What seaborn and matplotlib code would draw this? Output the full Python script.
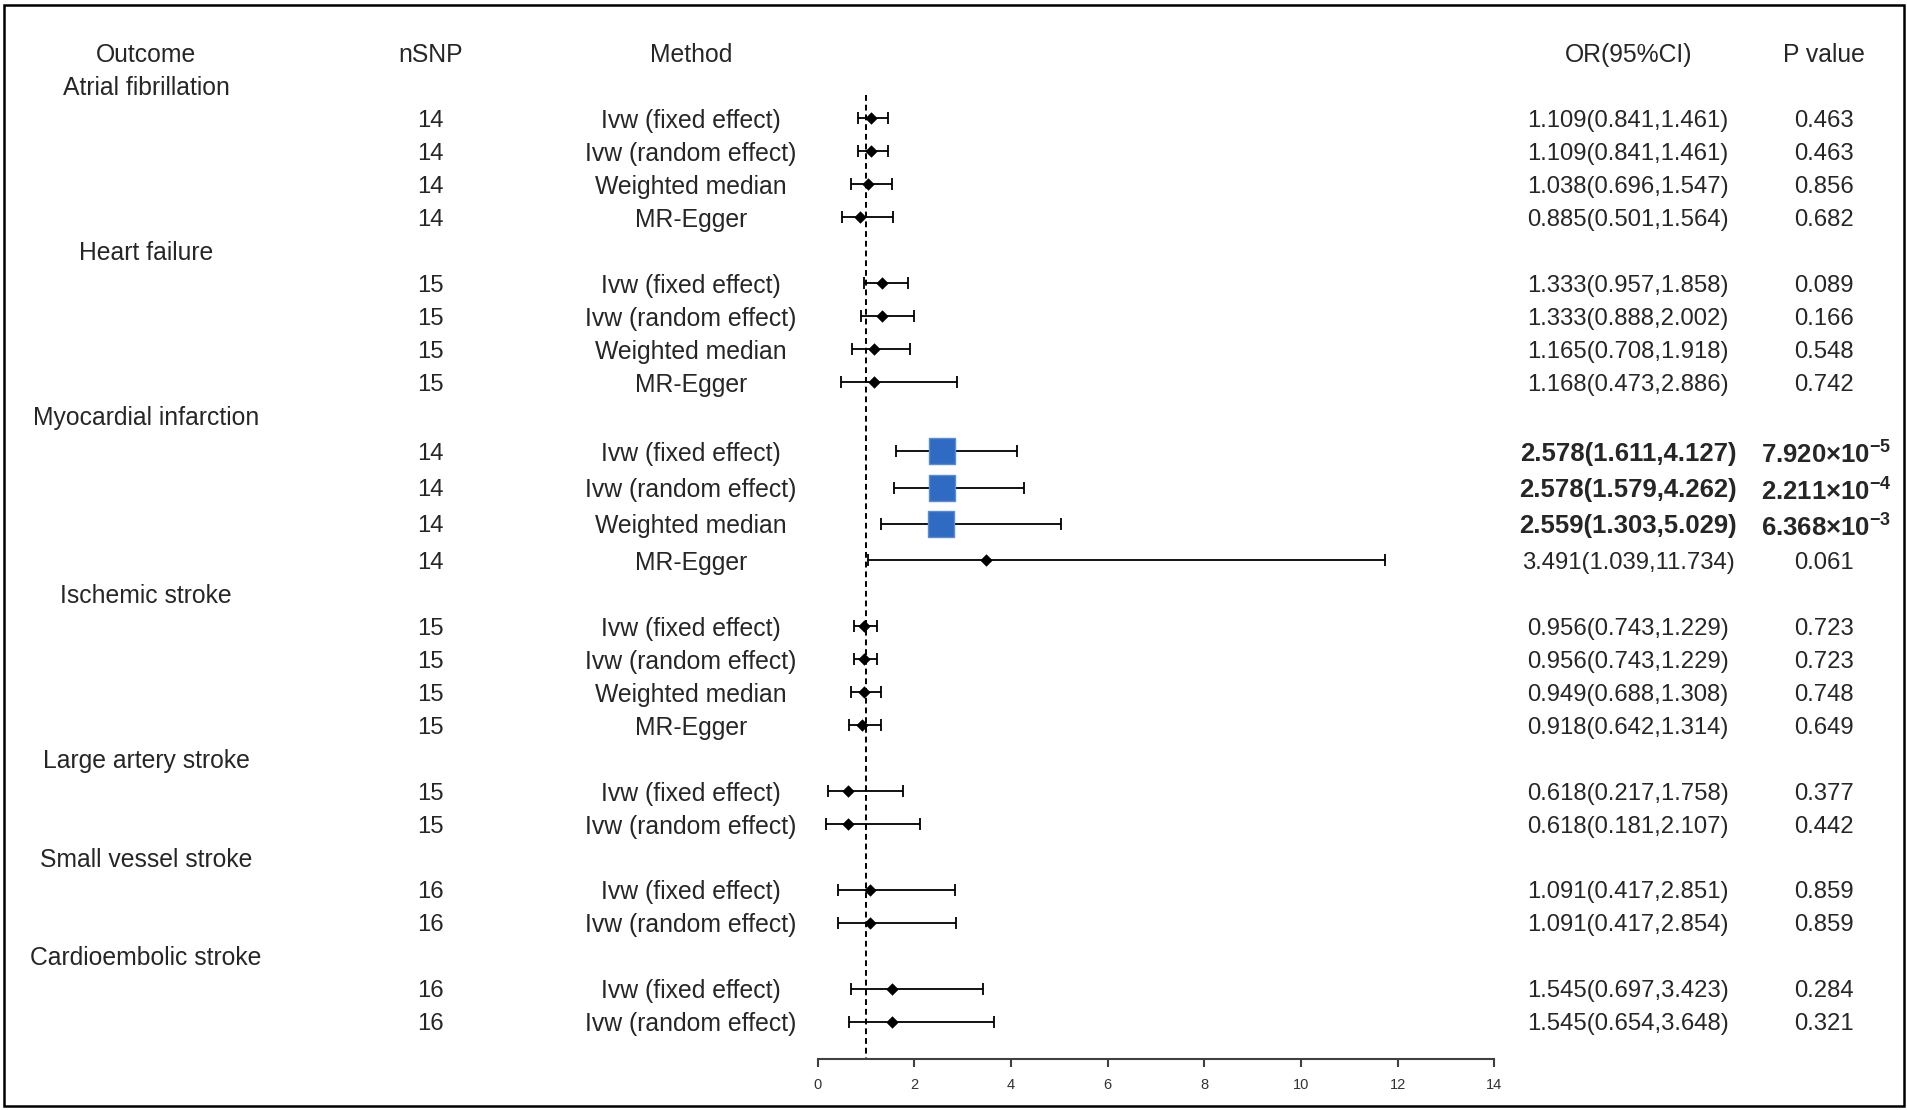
import numpy as np
import pandas as pd
import matplotlib
matplotlib.use("Agg")
import matplotlib.pyplot as plt
import matplotlib.transforms as mtransforms
from matplotlib.patches import Rectangle
import seaborn as sns

# data
outcomes = ["Atrial fibrillation", "Heart failure", "Myocardial infarction",
            "Ischemic stroke", "Large artery stroke", "Small vessel stroke",
            "Cardioembolic stroke"]
methods_per_outcome = [4, 4, 4, 4, 2, 2, 2]
method_names = ["Ivw (fixed effect)", "Ivw (random effect)", "Weighted median", "MR-Egger"]
nsnp = [14, 14, 14, 14, 15, 15, 15, 15, 14, 14, 14, 14,
        15, 15, 15, 15, 15, 15, 16, 16, 16, 16]
odds = [1.109, 1.109, 1.038, 0.885, 1.333, 1.333, 1.165, 1.168,
        2.578, 2.578, 2.559, 3.491, 0.956, 0.956, 0.949, 0.918,
        0.618, 0.618, 1.091, 1.091, 1.545, 1.545]
lower = [0.841, 0.841, 0.696, 0.501, 0.957, 0.888, 0.708, 0.473,
         1.611, 1.579, 1.303, 1.039, 0.743, 0.743, 0.688, 0.642,
         0.217, 0.181, 0.417, 0.417, 0.697, 0.654]
upper = [1.461, 1.461, 1.547, 1.564, 1.858, 2.002, 1.918, 2.886,
         4.127, 4.262, 5.029, 11.734, 1.229, 1.229, 1.308, 1.314,
         1.758, 2.107, 2.851, 2.854, 3.423, 3.648]
pvals = ["0.463", "0.463", "0.856", "0.682", "0.089", "0.166", "0.548", "0.742",
         r"7.920{\times}10^{-5}", r"2.211{\times}10^{-4}", r"6.368{\times}10^{-3}", "0.061",
         "0.723", "0.723", "0.748", "0.649", "0.377", "0.442", "0.859", "0.859",
         "0.284", "0.321"]
significant = [False] * 8 + [True, True, True, False] + [False] * 10

# build the row layout: outcome heading rows followed by method rows
rows = []
k = 0
for name, n in zip(outcomes, methods_per_outcome):
    rows.append(("head", name, None))
    for j in range(n):
        rows.append(("item", method_names[j], k))
        k += 1

ypos = []
y = 0.0
for i, r in enumerate(rows):
    if i > 0:
        big = r[0] == "item" and significant[r[2]]
        prev = rows[i - 1]
        prev_big = prev[0] == "item" and significant[prev[2]]
        y += 1.1 if (big or prev_big) else 1.0
    ypos.append(y)

df = pd.DataFrame({"nsnp": nsnp, "OR": odds, "lo": lower, "hi": upper,
                   "sig": significant})
df["y"] = [ypos[i] for i, r in enumerate(rows) if r[0] == "item"]
df["method"] = [r[1] for r in rows if r[0] == "item"]

sns.set_theme(style="white")
plt.rcParams["font.family"] = ["Liberation Sans", "DejaVu Sans"]
plt.rcParams["mathtext.fontset"] = "custom"
plt.rcParams["mathtext.rm"] = "Liberation Sans"
plt.rcParams["mathtext.bf"] = "Liberation Sans:bold"

fig = plt.figure(figsize=(19.08, 11.10), dpi=100)
ax = fig.add_axes([672 / 1568, 1 - 870 / 912, (1228 - 672) / 1568, 870 / 912])
ax.set_xlim(0, 14)
y_axis = (870 - 70) / 27.1
ax.set_ylim(y_axis, -70 / 27.1)

# reference line at OR = 1
ax.vlines(1, 0.3, y_axis, colors="black", linestyles=(0, (3, 2)), lw=1.4, zorder=1)

# confidence intervals
ax.errorbar(df["OR"], df["y"], xerr=[df["OR"] - df["lo"], df["hi"] - df["OR"]],
            fmt="none", ecolor="black", elinewidth=1.3, capsize=4.5, capthick=1.3,
            zorder=2)

# point estimates
sns.scatterplot(data=df[~df["sig"]], x="OR", y="y", marker="D", s=40,
                color="black", edgecolor="black", linewidth=0, ax=ax, zorder=3,
                legend=False)
sns.scatterplot(data=df[df["sig"]], x="OR", y="y", marker="s", s=330,
                color="#2F6BC2", edgecolor="#5A8CD6", linewidth=1.0, ax=ax,
                zorder=3, legend=False)

ax.set_xticks(range(0, 15, 2))
ax.set_yticks([])
ax.set_xlabel("")
ax.set_ylabel("")
for side in ["top", "left", "right"]:
    ax.spines[side].set_visible(False)
ax.spines["bottom"].set_color("#404040")
ax.spines["bottom"].set_linewidth(1.5)
ax.tick_params(axis="x", direction="out", length=6, width=1.5, color="#404040",
               labelsize=10.5, labelcolor="#333333", pad=8, bottom=True)
ax.patch.set_alpha(0)

# table text, x in figure fraction, y in row units
tr = mtransforms.blended_transform_factory(fig.transFigure, ax.transData)
fs = 17.8
fs_num = 17.2
va = "center_baseline"
col_out, col_n, col_m, col_or, col_p = 120 / 1568, 354 / 1568, 568 / 1568, 1338 / 1568, 1499 / 1568

ax.text(col_out, -1, "Outcome", transform=tr, ha="center", va=va, fontsize=fs)
ax.text(col_n, -1, "nSNP", transform=tr, ha="center", va=va, fontsize=fs)
ax.text(col_m, -1, "Method", transform=tr, ha="center", va=va, fontsize=fs)
ax.text(col_or, -1, "OR(95%CI)", transform=tr, ha="center", va=va, fontsize=fs)
ax.text(col_p, -1, "P value", transform=tr, ha="center", va=va, fontsize=fs)

for i, r in enumerate(rows):
    if r[0] == "head":
        ax.text(col_out, ypos[i], r[1], transform=tr, ha="center", va=va, fontsize=fs)
        continue
    j = r[2]
    ax.text(col_n, ypos[i], str(nsnp[j]), transform=tr, ha="center", va=va,
            fontsize=fs_num)
    ax.text(col_m, ypos[i], r[1], transform=tr, ha="center", va=va, fontsize=fs)
    ci = f"{odds[j]:.3f}({lower[j]:.3f},{upper[j]:.3f})"
    if significant[j]:
        ax.text(col_or, ypos[i], ci, transform=tr, ha="center", va=va,
                fontsize=18.5, fontweight="bold")
        ax.text(col_p + 0.001, ypos[i] + 0.12, r"$\mathbf{" + pvals[j] + "}$",
                transform=tr, ha="center", va="center", fontsize=18.5)
    else:
        ax.text(col_or, ypos[i], ci, transform=tr, ha="center", va=va, fontsize=fs_num)
        ax.text(col_p, ypos[i], pvals[j], transform=tr, ha="center", va=va,
                fontsize=fs_num)

# outer frame
fig.patches.append(Rectangle((3 / 1568, 3 / 912), 1562 / 1568, 905 / 912,
                             transform=fig.transFigure, fill=False,
                             edgecolor="black", linewidth=1.8))

fig.savefig("out.png", dpi=100)
